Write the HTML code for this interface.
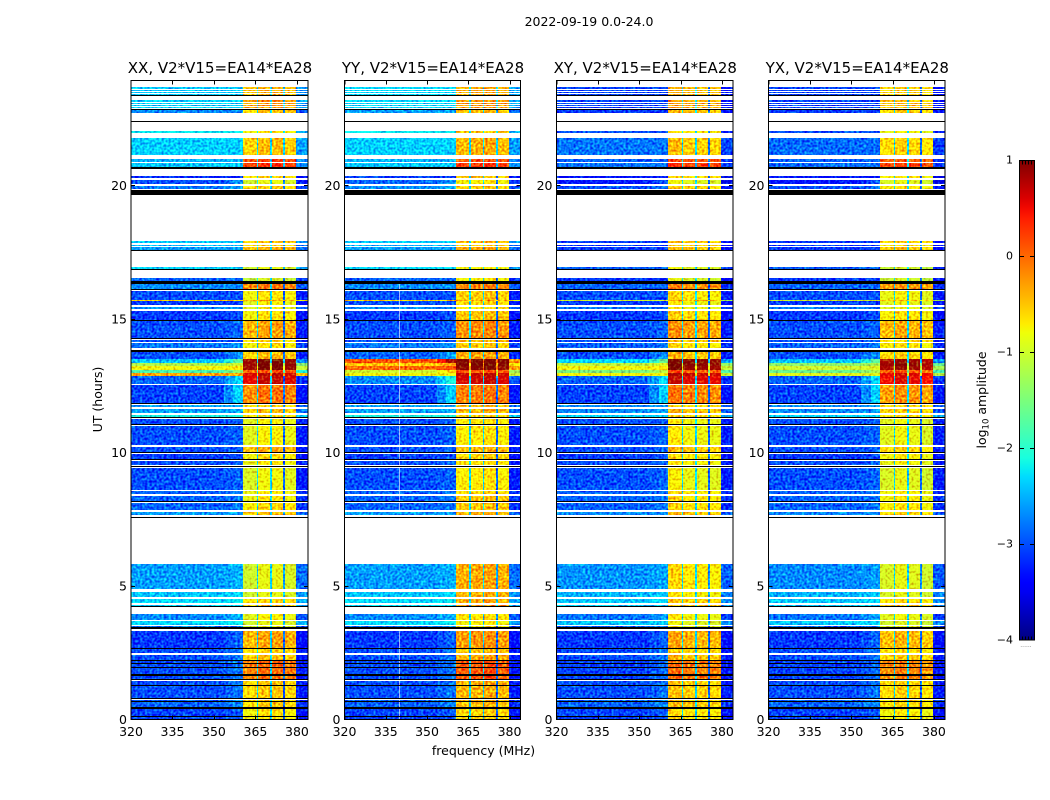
<!DOCTYPE html>
<html lang="en">
<head>
<meta charset="utf-8">
<title>2022-09-19 0.0-24.0</title>
<style>
html,body{margin:0;padding:0;background:#fff;width:1050px;height:800px;overflow:hidden}
svg{display:block}
text{font-family:"DejaVu Sans","Liberation Sans",sans-serif;fill:#000}
</style>
</head>
<body>
<svg id="figure" xmlns="http://www.w3.org/2000/svg" width="1050" height="800" viewBox="0 0 1050 800">
  <defs>
    <filter id="speckle" x="0" y="0" width="100%" height="100%" color-interpolation-filters="sRGB">
      <feTurbulence type="fractalNoise" baseFrequency="0.42" numOctaves="1" seed="4" result="n"/>
      <feColorMatrix in="n" type="matrix" values="0.3 0 0 0 0.35  1.5 0 0 0 -0.25  0.3 0 0 0 0.35  0 0 0 0 1" result="g"/>
      <feComposite in="SourceGraphic" in2="g" operator="arithmetic" k1="0" k2="1" k3="0.9" k4="-0.45" result="m"/>
      <feComposite in="m" in2="SourceAlpha" operator="in"/>
    </filter>
    <linearGradient id="cbar-gradient" x1="0" y1="1" x2="0" y2="0"></linearGradient>
  </defs>
  <rect x="0" y="0" width="1050" height="800" fill="#fff"/>
  <text x="589" y="26" font-size="12.5" text-anchor="middle">2022-09-19 0.0-24.0</text>
  <text x="483.5" y="755" font-size="12.5" text-anchor="middle">frequency (MHz)</text>
  <text transform="translate(102,399.5) rotate(-90)" font-size="12.5" text-anchor="middle">UT (hours)</text>
  <text transform="translate(986,400) rotate(-90)" font-size="12.5" text-anchor="middle">log<tspan font-size="8.5" dy="2.5">10</tspan><tspan dy="-2.5"> amplitude</tspan></text>
  <g id="panels"></g>
  <g id="colorbar"></g>
  <text x="1026" y="647" font-size="6" text-anchor="middle" style="fill:#777">......</text>
</svg>
<script>
const panelTitles = ["XX, V2*V15=EA14*EA28", "YY, V2*V15=EA14*EA28", "XY, V2*V15=EA14*EA28", "YX, V2*V15=EA14*EA28"];
const freqTicks = [320, 335, 350, 365, 380];
const timeTicks = [0, 5, 10, 15, 20];
const colorbarTicks = [1, 0, -1, -2, -3, -4];

const rowTop = [23.69,23.58,23.50,23.43,23.20,23.09,23.01,22.94,22.83,22.04,
 21.78,20.99,20.84,20.36,20.21,19.98,17.92,17.77,17.70,16.95,
 16.54,16.31,16.05,15.71,15.67,15.45,15.30,14.93,14.21,14.10,
 13.76,13.50,13.35,13.24,13.09,12.98,12.87,12.53,11.78,11.63,
 11.40,11.25,10.99,10.21,9.94,9.68,9.42,8.56,8.37,8.11,
 7.77,5.82,4.78,4.51,4.29,3.95,3.69,3.50,3.31,2.64,
 2.42,2.19,1.44,0.73,0.39];
const rowBottom = [23.61,23.54,23.46,23.39,23.13,23.05,22.98,22.90,22.73,21.97,
 21.14,20.88,20.69,20.26,20.06,19.85,17.83,17.72,17.60,16.87,
 16.42,16.10,15.71,15.67,15.52,15.36,14.96,14.29,14.14,13.91,
 13.50,13.35,13.24,13.09,12.98,12.87,12.57,11.85,11.70,11.48,
 11.29,11.03,10.28,9.98,9.72,9.53,8.60,8.45,8.18,7.85,
 7.66,4.89,4.59,4.36,4.25,3.73,3.54,3.39,2.68,2.49,
 2.23,1.48,0.77,0.47,0.00];

const bgXX = [-2.4,-2.4,-2.4,-2.4,-2.35,-2.35,-2.35,-2.35,-2.7,-2.2,
 -2.35,-2.5,-2.4,-3.2,-3.0,-2.8,-2.4,-2.5,-2.6,-2.3,
 -2.9,-2.7,-3.0,-0.6,-3.1,-2.7,-3.1,-3.0,-3.0,-2.8,
 -3.0,-2.4,-1.2,-0.8,-1.8,-0.3,-2.9,-3.05,-2.6,-2.6,
 -2.1,-3.0,-3.0,-3.0,-3.1,-3.0,-3.0,-2.9,-2.9,-2.9,
 -2.6,-2.6,-2.4,-2.3,-2.3,-2.7,-2.3,-2.8,-3.1,-3.0,
 -3.0,-3.0,-3.0,-2.9,-3.05];
const bgYY = [-2.3,-2.3,-2.3,-2.3,-2.3,-2.3,-2.3,-2.3,-2.6,-2.2,
 -2.35,-2.5,-2.4,-3.1,-2.9,-2.7,-2.4,-2.5,-2.6,-2.3,
 -2.9,-2.7,-3.0,-0.6,-3.0,-2.7,-3.1,-3.0,-3.0,-2.8,
 -2.9,0.1,-0.5,0.0,-1.0,-0.8,-2.7,-3.05,-2.6,-2.6,
 -2.1,-3.0,-3.0,-3.0,-3.1,-3.0,-3.0,-2.9,-2.9,-2.9,
 -2.6,-2.6,-2.4,-2.3,-2.3,-2.7,-2.3,-2.8,-3.1,-3.0,
 -3.0,-3.0,-3.0,-2.9,-3.05];
const bgXY = [-3.05,-3.05,-3.05,-3.05,-3.05,-3.05,-3.05,-3.05,-3.1,-3.0,
 -2.8,-2.9,-2.8,-3.3,-3.3,-3.0,-3.1,-3.1,-3.1,-2.9,
 -3.1,-2.9,-3.0,-1.0,-3.1,-2.8,-3.1,-3.0,-3.0,-2.9,
 -3.0,-2.3,-1.1,-0.8,-1.5,-0.8,-2.9,-3.05,-2.7,-2.7,
 -2.3,-3.0,-3.0,-3.0,-3.1,-3.0,-3.0,-2.9,-2.9,-2.9,
 -2.7,-2.65,-2.5,-2.4,-2.4,-2.8,-2.4,-2.9,-3.1,-3.0,
 -3.0,-3.05,-3.0,-2.9,-3.05];
const bgYX = [-3.05,-3.05,-3.05,-3.05,-3.05,-3.05,-3.05,-3.05,-3.1,-3.0,
 -2.85,-2.9,-2.85,-3.3,-3.3,-3.0,-3.1,-3.1,-3.1,-2.9,
 -3.1,-2.9,-3.0,-1.0,-3.1,-2.8,-3.1,-3.0,-3.0,-2.9,
 -3.0,-2.4,-1.4,-1.0,-1.6,-0.9,-2.9,-3.05,-2.7,-2.7,
 -2.3,-3.0,-3.0,-3.0,-3.1,-3.0,-3.0,-2.9,-2.9,-2.9,
 -2.7,-2.7,-2.5,-2.4,-2.4,-2.8,-2.4,-2.9,-3.1,-3.0,
 -3.0,-3.05,-3.0,-2.9,-3.05];

const rfiXX = [-0.4,-0.4,-0.4,-0.4,-0.25,-0.25,-0.25,-0.25,-0.5,-0.7,
 -0.5,0.2,0.3,-0.6,-0.9,-0.6,-0.5,-0.6,-0.4,-0.9,
 -1.0,-0.1,-0.7,-0.4,-0.8,-0.8,-0.7,-0.35,-0.5,-0.7,
 -0.5,0.95,0.95,0.95,0.1,0.7,0.65,-0.1,-0.6,-0.5,
 -0.6,-0.8,-0.8,-0.4,-0.7,-0.75,-0.85,-0.75,-0.75,-0.65,
 -0.5,-0.9,-0.9,-0.6,-0.4,-0.8,-0.9,-0.9,-0.35,-0.6,
 -0.5,-0.05,-0.55,-0.55,-0.7];
const rfiYY = [-0.4,-0.4,-0.4,-0.4,-0.3,-0.3,-0.3,-0.3,-0.5,-0.6,
 -0.45,0.1,0.2,-0.6,-0.8,-0.6,-0.5,-0.6,-0.4,-0.8,
 -0.8,-0.2,-0.6,-0.3,-0.7,-0.7,-0.55,-0.25,-0.5,-0.6,
 -0.4,0.95,0.95,0.9,0.1,0.65,0.6,-0.15,-0.5,-0.5,
 -0.6,-0.75,-0.75,-0.5,-0.65,-0.7,-0.75,-0.65,-0.55,-0.55,
 -0.45,-0.4,-0.45,-0.4,-0.3,-0.7,-0.8,-0.8,-0.3,-0.5,
 -0.4,0.05,-0.45,-0.5,-0.65];
const rfiXY = [-0.45,-0.45,-0.45,-0.45,-0.35,-0.35,-0.35,-0.35,-0.5,-0.7,
 -0.55,0.1,0.25,-0.6,-0.9,-0.6,-0.5,-0.6,-0.5,-0.9,
 -0.95,-0.2,-0.7,-0.4,-0.8,-0.8,-0.65,-0.3,-0.5,-0.7,
 -0.5,0.95,0.95,0.9,0.1,0.7,0.6,-0.15,-0.6,-0.5,
 -0.6,-0.8,-0.8,-0.5,-0.7,-0.75,-0.85,-0.7,-0.7,-0.65,
 -0.5,-0.7,-0.75,-0.55,-0.4,-0.8,-0.9,-0.85,-0.4,-0.6,
 -0.5,-0.1,-0.55,-0.55,-0.7];
const rfiYX = [-0.55,-0.55,-0.55,-0.55,-0.45,-0.45,-0.45,-0.45,-0.6,-0.8,
 -0.6,0.05,0.2,-0.7,-0.9,-0.7,-0.6,-0.7,-0.5,-1.0,
 -1.0,-0.25,-0.8,-0.5,-0.85,-0.85,-0.7,-0.4,-0.6,-0.7,
 -0.6,0.85,0.9,0.85,0.05,0.6,0.55,-0.25,-0.6,-0.55,
 -0.65,-0.85,-0.85,-0.6,-0.75,-0.8,-0.9,-0.75,-0.75,-0.7,
 -0.6,-0.9,-0.9,-0.65,-0.45,-0.85,-0.95,-0.9,-0.45,-0.65,
 -0.55,-0.15,-0.6,-0.6,-0.75];

const haloLift = [0,0,0,0,0,0,0,0,0,0,
 0,0,0,0,0.3,0.2,0,0,0,0,
 0,0,0,0,0,0,0.1,0.1,0,0.1,
 0.3,0.7,0.2,0.1,0.4,0,0.6,0.7,0.1,0.1,
 0,0.1,0.1,0.1,0.1,0.1,0.1,0.1,0.1,0.1,
 0,0.1,0.1,0.1,0,0.2,0.1,0.1,0.2,0.2,
 0.2,0.2,0.2,0.2,0.1];

const channelFreqs = [320, 340, 353.5, 357, 360.5, 365.4, 366, 370.3, 370.9, 375.1, 375.8, 379.7, 384];
const channelKinds = ["bg", "bg", "haloHalf", "halo", "b0", "g0", "b1", "g1", "b2", "g2", "b3", "edge"];
const bandOffsetXX = [-0.1, 0.05, 0.05, -0.05];
const bandOffsetYY = [0.02, 0.05, 0.1, 0.0];
const bandOffsetXY = [0.1, 0.0, -0.02, -0.05];
const bandOffsetYX = [-0.05, 0.05, 0.0, -0.1];
const gapValues = [-2.3, -2.3, -2.9];

const blackHours = [23.37,22.85,22.39,20.67,19.75,17.58,16.85,16.37,16.09,14.94,
 14.25,13.80,11.82,11.29,11.03,9.98,9.72,9.46,8.15,7.55,
 4.23,3.43,2.66,2.21,2.08,1.93,1.67,1.48,1.29,0.77,
 0.69,0.43,0.11];
const blackThickness = [0.04,0.04,0.04,0.06,0.17,0.04,0.04,0.1,0.04,0.04,
 0.04,0.08,0.04,0.04,0.04,0.04,0.04,0.04,0.04,0.04,
 0.04,0.06,0.04,0.04,0.04,0.04,0.08,0.04,0.04,0.04,
 0.04,0.07,0.04];

const spikePanels = [1, 1];
const spikeFreqs = [339.7, 339.7];
const spikeStarts = [16.3, 3.3];
const spikeEnds = [7.8, 0];

const allBg = [bgXX, bgYY, bgXY, bgYX];
const allRfi = [rfiXX, rfiYY, rfiXY, rfiYX];
const allOffsets = [bandOffsetXX, bandOffsetYY, bandOffsetXY, bandOffsetYX];

const NS = "http://www.w3.org/2000/svg";
const panelLeft = [131, 344.5, 556.5, 768.5];
const panelRight = [308, 520.5, 733, 945];
const axisTop = 80.5, axisBottom = 719.5;
const freqMin = 320, freqMax = 384, timeMin = 0, timeMax = 23.93;
const vMin = -4, vMax = 1;

function yOf(t) { return axisBottom - (t - timeMin) / (timeMax - timeMin) * (axisBottom - axisTop); }
function xOf(p, f) { return panelLeft[p] + (f - freqMin) / (freqMax - freqMin) * (panelRight[p] - panelLeft[p]); }
function cbY(v) { return 640 - (v - vMin) / (vMax - vMin) * 480; }
function clamp(a) { return Math.max(0, Math.min(1, a)); }
function jet(f) {
  let r, g, b;
  r = f < 0.35 ? 0 : f < 0.66 ? (f - 0.35) / 0.31 : f < 0.89 ? 1 : 1 - (f - 0.89) / 0.11 * 0.5;
  g = f < 0.125 ? 0 : f < 0.375 ? (f - 0.125) / 0.25 : f < 0.64 ? 1 : f < 0.91 ? 1 - (f - 0.64) / 0.27 : 0;
  b = f < 0.11 ? 0.5 + f / 0.11 * 0.5 : f < 0.34 ? 1 : f < 0.65 ? 1 - (f - 0.34) / 0.31 : 0;
  return "rgb(" + Math.round(clamp(r) * 255) + "," + Math.round(clamp(g) * 255) + "," + Math.round(clamp(b) * 255) + ")";
}
function colorOf(v) { return jet(clamp((v - vMin) / (vMax - vMin))); }
function make(tag, attrs, parent) {
  const e = document.createElementNS(NS, tag);
  for (const k in attrs) e.setAttribute(k, attrs[k]);
  parent.appendChild(e);
  return e;
}
function cellValue(p, r, c) {
  const kind = channelKinds[c], bg = allBg[p][r], rfi = allRfi[p][r];
  if (kind === "bg") return bg;
  if (kind === "halo") return bg + haloLift[r];
  if (kind === "haloHalf") return bg + haloLift[r] * 0.5;
  if (kind === "edge") return Math.min(bg - 0.25, -0.2);
  if (kind[0] === "g") return Math.max(gapValues[+kind[1]], bg);
  return rfi + allOffsets[p][+kind[1]];
}

const panelsRoot = document.getElementById("panels");
panelTitles.forEach(function (title, p) {
  const g = make("g", {}, panelsRoot);
  
  

  const heat = make("g", { filter: "url(#speckle)" }, g);
  
  
  rowTop.forEach(function (tTop, r) {
    const y0 = Math.round(yOf(tTop)), y1 = Math.max(Math.round(yOf(rowBottom[r])), y0 + 1);
    channelKinds.forEach(function (kind, c) {
      const x0 = Math.round(xOf(p, channelFreqs[c])), x1 = Math.round(xOf(p, channelFreqs[c + 1]));
      const cell = make("rect", { x: x0, y: y0, width: Math.max(x1 - x0, 1), height: y1 - y0, fill: colorOf(cellValue(p, r, c)), "shape-rendering": "crispEdges" }, heat);
      
      
    });
  });

  spikeFreqs.forEach(function (f, i) {
    if (spikePanels[i] !== p) return;
    const s = make("rect", { x: Math.round(xOf(p, f)), y: yOf(spikeStarts[i]), width: 1, height: yOf(spikeEnds[i]) - yOf(spikeStarts[i]), fill: "#fff", opacity: 0.6 }, g);
    
    
  });

  blackHours.forEach(function (t, i) {
    const th = Math.max(1, blackThickness[i] * 26.7);
    const l = make("rect", { x: panelLeft[p], y: Math.round(yOf(t) - th / 2), width: panelRight[p] - panelLeft[p], height: Math.round(th), fill: "#000", "shape-rendering": "crispEdges" }, g);
    
    
  });

  const frame = make("rect", { x: panelLeft[p], y: axisTop, width: panelRight[p] - panelLeft[p], height: axisBottom - axisTop, fill: "none", stroke: "#000", "stroke-width": 1 }, g);
  
  

  freqTicks.forEach(function (f) {
    const x = Math.round(xOf(p, f)) + 0.5 - (f === freqMin ? 0.5 : 0);
    const t1 = make("line", { x1: x, x2: x, y1: axisBottom, y2: axisBottom - 4, stroke: "#000" }, g);
    
    
    const t2 = make("line", { x1: x, x2: x, y1: axisTop, y2: axisTop + 4, stroke: "#000" }, g);
    
    
    const lab = make("text", { x: xOf(p, f), y: 736, "font-size": 12.5, "text-anchor": "middle" }, g);
    
    
    lab.textContent = String(f);
  });

  timeTicks.forEach(function (t) {
    const y = Math.round(yOf(t)) + 0.5 - (t === 0 ? 1 : 0);
    const t1 = make("line", { x1: panelLeft[p], x2: panelLeft[p] + 4, y1: y, y2: y, stroke: "#000" }, g);
    
    
    const t2 = make("line", { x1: panelRight[p], x2: panelRight[p] - 4, y1: y, y2: y, stroke: "#000" }, g);
    
    
    const lab = make("text", { x: panelLeft[p] - 4, y: yOf(t) + 4.5, "font-size": 12.5, "text-anchor": "end" }, g);
    
    
    lab.textContent = String(t);
  });

  const ttl = make("text", { x: (panelLeft[p] + panelRight[p]) / 2 + 0.5, y: 73, "font-size": 15, "text-anchor": "middle" }, g);
  
  
  ttl.textContent = title;
});

const gradient = document.getElementById("cbar-gradient");
for (let i = 0; i <= 50; i++) {
  make("stop", { offset: i / 50, "stop-color": jet(i / 50) }, gradient);
}
const cbar = document.getElementById("colorbar");
const cbarRect = make("rect", { x: 1019.5, y: 160.5, width: 15, height: 479.5, fill: "url(#cbar-gradient)", stroke: "#000", "stroke-width": 1 }, cbar);


colorbarTicks.forEach(function (v) {
  const y = Math.round(cbY(v)) + 0.5;
  if (v !== 1 && v !== -4) {
    const a = make("line", { x1: 1019.5, x2: 1024, y1: y, y2: y, stroke: "#000" }, cbar);
    
    
    const b = make("line", { x1: 1030, x2: 1034.5, y1: y, y2: y, stroke: "#000" }, cbar);
    
    
  } else {
    const dir = v === 1 ? 1 : -1;
    [1022.5, 1025.5, 1028.5, 1031.5].forEach(function (x) {
      const m = make("line", { x1: x, x2: x, y1: y, y2: y + dir * 4, stroke: "#000" }, cbar);
      
      
    });
  }
  const lab = make("text", { x: 1013, y: cbY(v) + 3.5, "font-size": 11, "text-anchor": "end" }, cbar);
  
  
  lab.textContent = String(v).replace("-", "\u2212");
});
</script>
</body>
</html>
